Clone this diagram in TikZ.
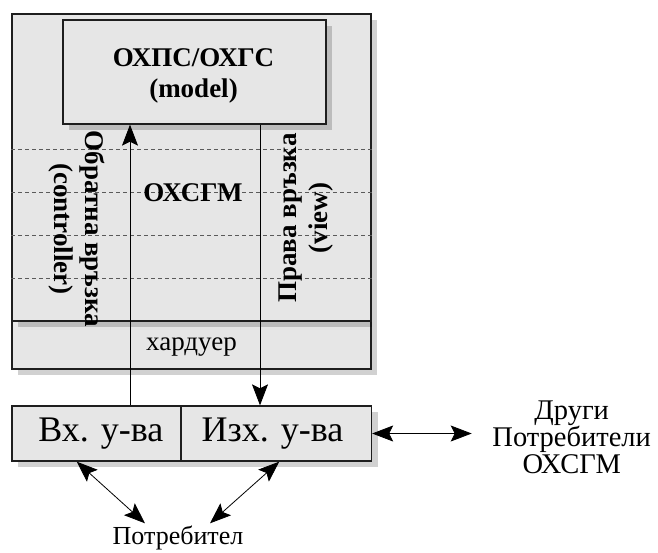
\documentclass[tikz,border=0pt]{standalone}
\usepackage{fontspec}
\setmainfont{Liberation Serif}
\usetikzlibrary{arrows.meta,shadows}
\definecolor{boxfill}{RGB}{230,230,230}
\definecolor{boxline}{RGB}{30,30,30}
\definecolor{dashcol}{RGB}{90,90,90}
\tikzset{
  box/.style={draw=boxline,line width=1.3pt,fill=boxfill,inner sep=0pt,
    drop shadow={shadow xshift=6pt,shadow yshift=-6pt,opacity=0.18,fill=black}},
  bigtxt/.style={font=\fontsize{36}{40}\selectfont},
  boldtxt/.style={font=\fontsize{27}{31}\selectfont\bfseries,align=center},
  midtxt/.style={font=\fontsize{27}{31}\selectfont,align=center},
  sidetxt/.style={font=\fontsize{28.5}{27}\selectfont,align=center},
  tip/.tip={Stealth[length=21pt,width=16pt,inset=4pt]},
  arr/.style={line width=0.8pt,draw=black,-tip},
  darr/.style={line width=0.8pt,draw=black,tip-tip},
  dashline/.style={draw=dashcol,line width=0.8pt,dash pattern=on 4pt off 3pt}
}
\begin{document}
\begin{tikzpicture}[x=1pt,y=-1pt]
\useasboundingbox (0,0) rectangle (658,552);
% hardware box
\node[box,minimum width=359pt,minimum height=48pt] (hw) at (191.5,345) {};
\node[midtxt] (hwt) at (191.5,347) {хардуер};
% OS box
\node[box,minimum width=359pt,minimum height=307pt] (os) at (191.5,167.5) {};
% dashed lines
\foreach \yy in {149,192,235,278}
  \draw[dashline] (os.west |- 0,\yy) -- (os.east |- 0,\yy);
% model box
\node[box,minimum width=263pt,minimum height=104pt] (model) at (194.5,72) {};
\node[boldtxt] (modelt) at (193.5,76) {ОХПС/ОХГС\\(model)};
\node[boldtxt] (oxcgm) at (193,193) {ОХСГМ};
% rotated labels
\node[boldtxt,rotate=-90] (ctrl) at (77,229) {Обратна връзка\\(controller)};
\node[boldtxt,rotate=90] (view) at (306,218) {Права връзка\\(view)};
% devices
\node[box,minimum width=169pt,minimum height=55pt] (vx) at (96.5,433.5) {};
\node[box,minimum width=190.5pt,minimum height=55pt] (izx) at (276.25,433.5) {};
\node[bigtxt] (vxt) at (100.8,433.5) {Вх. у-ва};
\node[bigtxt] (izxt) at (272.5,433.5) {Изх. у-ва};
% arrows between
\draw[arr] ([xshift=33.5pt]vx.north) -- ([xshift=33.5pt]vx.north |- model.south);
\draw[arr] ([xshift=-16.25pt]izx.north |- model.south) -- ([xshift=-16.25pt]izx.north);
% others
\node[sidetxt] (others) at (571.7,437) {Други\\Потребители\\ОХСГМ};
\coordinate (oe) at (471.7,433.5);
\draw[darr] (izx.east) -- (oe);
% user
\node[font=\fontsize{26}{30}\selectfont] (user) at (178,538) {Потребител};
\coordinate (u1) at (145,523.3);
\coordinate (u2) at (210,523.3);
\draw[darr] ([xshift=-19.8pt]vx.south) -- (u1);
\draw[darr] ([xshift=3pt]izx.south) -- (u2);
\end{tikzpicture}
\end{document}
